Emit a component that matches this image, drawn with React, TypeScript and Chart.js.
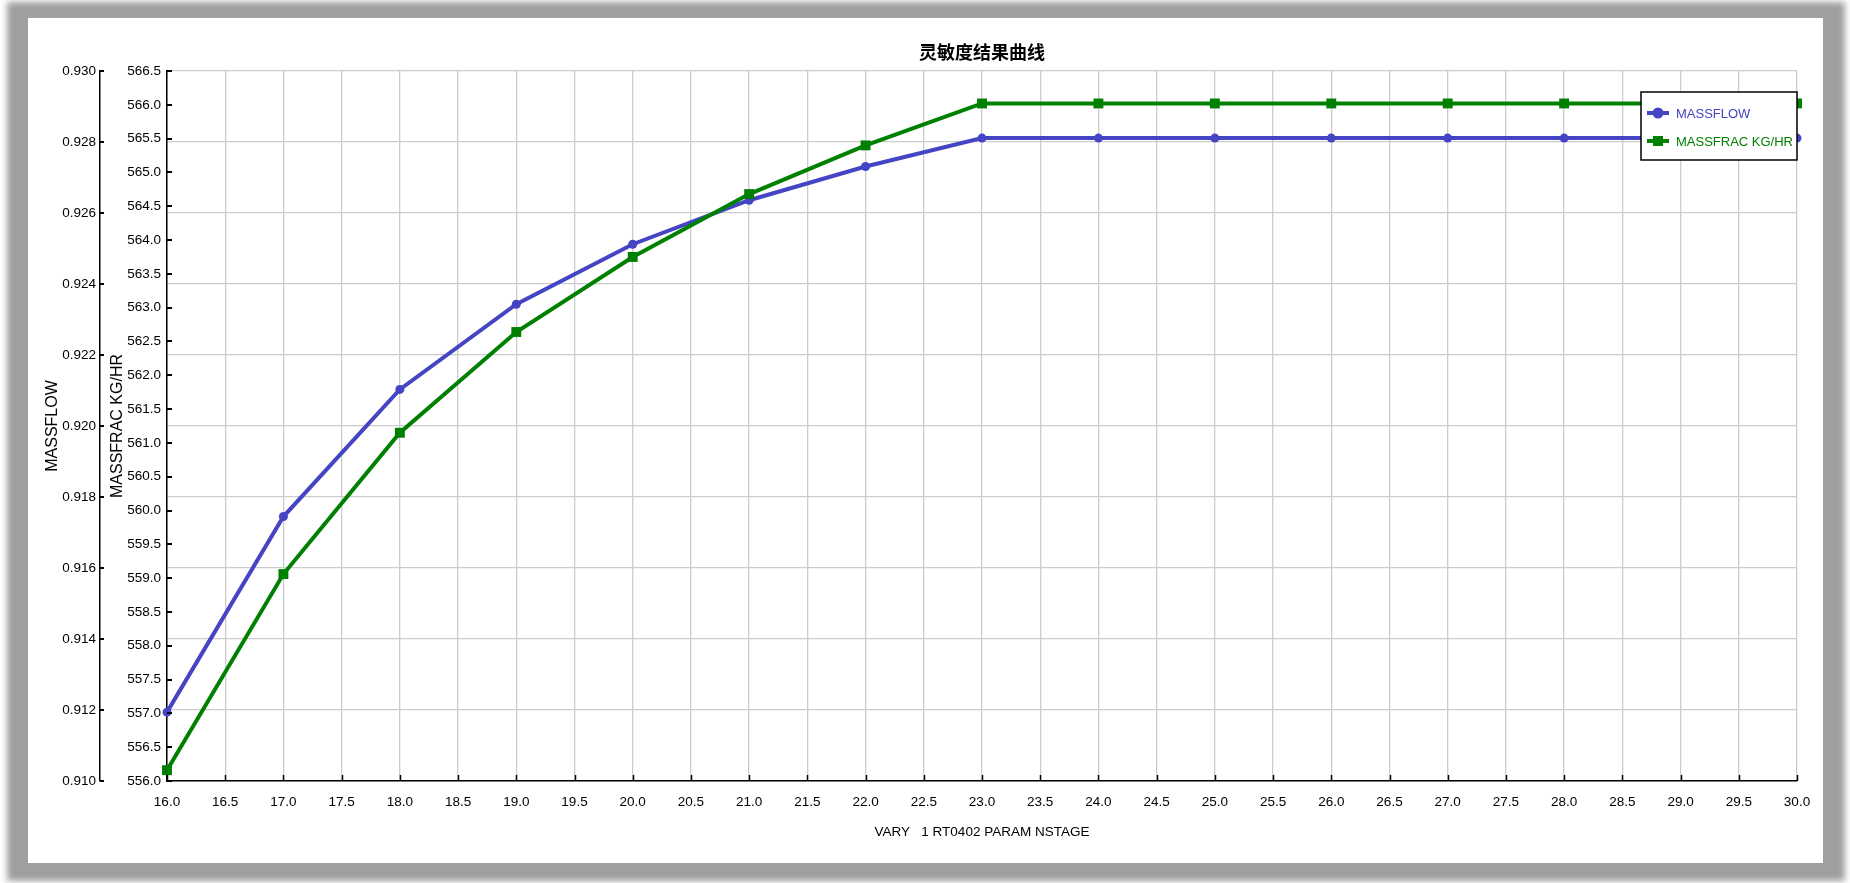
import React, { useEffect, useRef } from "react";
import { Chart, registerables } from "chart.js";

Chart.register(...registerables);

// ---- data ----
const nstage = [16, 17, 18, 19, 20, 21, 22, 23, 24, 25, 26, 27, 28, 29, 30];
const massflow = [0.91194, 0.91745, 0.92103, 0.92343, 0.92512, 0.92636, 0.92731, 0.92811, 0.92811, 0.92811, 0.92811, 0.92811, 0.92811, 0.92811, 0.92811];
const massfrac = [556.16, 559.06, 561.15, 562.64, 563.75, 564.68, 565.40, 566.02, 566.02, 566.02, 566.02, 566.02, 566.02, 566.02, 566.02];

const chartTitle = "灵敏度结果曲线";
const xTitle = "VARY   1 RT0402 PARAM NSTAGE";
const yTitle = "MASSFLOW";
const y1Title = "MASSFRAC KG/HR";
const seriesNames = ["MASSFLOW", "MASSFRAC KG/HR"];

const BLUE = "#4444c4";
const GREEN = "#008000";
const FONT = "'Liberation Sans', Arial, sans-serif";

const titlePlugin = {
  id: "customTitle",
  afterDraw(chart: any) {
    const { ctx, chartArea } = chart;
    ctx.save();
    ctx.font = "bold 18px 'Noto Sans CJK SC', sans-serif";
    ctx.fillStyle = "#000";
    ctx.textAlign = "center";
    ctx.textBaseline = "middle";
    ctx.fillText(chartTitle, (chartArea.left + chartArea.right) / 2, 52);
    ctx.restore();
  },
};

const tickPlugin = {
  id: "inwardTicks",
  afterDraw(chart: any) {
    const { ctx } = chart;
    const x = chart.scales.x;
    const y = chart.scales.y;
    const y1 = chart.scales.y1;
    ctx.save();
    ctx.strokeStyle = "#000";
    ctx.lineWidth = 1.5;
    x.ticks.forEach((t: any) => {
      const px = Math.round(x.getPixelForValue(t.value)) + 0.5;
      ctx.beginPath();
      ctx.moveTo(px, x.top);
      ctx.lineTo(px, x.top - 6);
      ctx.stroke();
    });
    ctx.lineWidth = 2;
    y.ticks.forEach((t: any) => {
      const py = Math.round(y.getPixelForValue(t.value));
      ctx.beginPath();
      ctx.moveTo(y.right, py);
      ctx.lineTo(y.right + 4, py);
      ctx.stroke();
    });
    y1.ticks.forEach((t: any) => {
      const py = Math.round(y1.getPixelForValue(t.value));
      ctx.beginPath();
      ctx.moveTo(y1.right, py);
      ctx.lineTo(y1.right + 5, py);
      ctx.stroke();
    });
    ctx.restore();
  },
};

const legendPlugin = {
  id: "boxLegend",
  afterDatasetsDraw(chart: any) {
    const { ctx, chartArea } = chart;
    const right = chartArea.right;
    const left = right - 156;
    const top = 92;
    const h = 68;
    ctx.save();
    ctx.fillStyle = "#fff";
    ctx.fillRect(left, top, right - left, h);
    ctx.strokeStyle = "#000";
    ctx.lineWidth = 1.5;
    ctx.strokeRect(left, top, right - left, h);
    const items = [
      { name: seriesNames[0], color: BLUE, shape: "circle", y: 113 },
      { name: seriesNames[1], color: GREEN, shape: "rect", y: 141 },
    ];
    items.forEach((it) => {
      ctx.strokeStyle = it.color;
      ctx.fillStyle = it.color;
      ctx.lineWidth = 4;
      ctx.beginPath();
      ctx.moveTo(left + 6, it.y);
      ctx.lineTo(left + 28, it.y);
      ctx.stroke();
      if (it.shape === "circle") {
        ctx.beginPath();
        ctx.arc(left + 17, it.y, 5.5, 0, Math.PI * 2);
        ctx.fill();
      } else {
        ctx.fillRect(left + 12, it.y - 5, 10, 10);
      }
      ctx.font = "13px " + FONT;
      ctx.textAlign = "left";
      ctx.textBaseline = "middle";
      ctx.fillText(it.name, left + 35, it.y + 1);
    });
    ctx.restore();
  },
};

export default function App() {
  const ref = useRef<HTMLCanvasElement>(null);

  useEffect(() => {
    if (!ref.current) return;
    const chart = new Chart(ref.current, {
      type: "line",
      data: {
        datasets: [
          {
            label: seriesNames[0],
            data: nstage.map((n, i) => ({ x: n, y: massflow[i] })),
            yAxisID: "y",
            borderColor: BLUE,
            backgroundColor: BLUE,
            borderWidth: 4,
            pointStyle: "circle",
            pointRadius: 4.5,
            pointBorderWidth: 0,
            tension: 0,
            clip: false as any,
            order: 2,
          },
          {
            label: seriesNames[1],
            data: nstage.map((n, i) => ({ x: n, y: massfrac[i] })),
            yAxisID: "y1",
            borderColor: GREEN,
            backgroundColor: GREEN,
            borderWidth: 4,
            pointStyle: "rect",
            pointRadius: 7,
            pointBorderWidth: 0,
            tension: 0,
            clip: false as any,
            order: 1,
          },
        ],
      },
      options: {
        responsive: false,
        animation: false,
        devicePixelRatio: 1,
        layout: { padding: { left: 40, right: 53, top: 71, bottom: 38 } },
        plugins: {
          legend: { display: false },
          title: { display: false },
          tooltip: { enabled: false },
        },
        scales: {
          x: {
            type: "linear",
            min: 16,
            max: 30,
            afterFit: (s: any) => { s.height = 64; },
            ticks: {
              stepSize: 0.5,
              autoSkip: false,
              maxRotation: 0,
              padding: 13,
              color: "#000",
              font: { family: FONT, size: 13.5 },
              callback: (v: any) => Number(v).toFixed(1),
            },
            grid: { color: "#cccccc", lineWidth: 1.3, drawTicks: false },
            border: { color: "#000", width: 1.5 },
            title: {
              display: true,
              text: xTitle,
              color: "#000",
              font: { family: FONT, size: 13.5 },
              padding: { top: 4, bottom: 5 },
            },
          },
          y: {
            type: "linear",
            position: "left",
            weight: 1,
            min: 0.91,
            max: 0.93,
            afterFit: (s: any) => { s.width = 60; },
            ticks: {
              stepSize: 0.002,
              padding: 4,
              color: "#000",
              font: { family: FONT, size: 13.5 },
              callback: (v: any) => Number(v).toFixed(3),
            },
            grid: { color: "#cccccc", lineWidth: 1.3, drawTicks: false },
            border: { color: "#000", width: 1.5 },
            title: {
              display: true,
              text: yTitle,
              color: "#000",
              font: { family: FONT, size: 16 },
              padding: { top: 3, bottom: 4 },
            },
          },
          y1: {
            type: "linear",
            position: "left",
            weight: 0,
            min: 556,
            max: 566.5,
            afterFit: (s: any) => { s.width = 67; },
            ticks: {
              stepSize: 0.5,
              padding: 6,
              autoSkip: false,
              color: "#000",
              font: { family: FONT, size: 13.5 },
              callback: (v: any) => Number(v).toFixed(1),
            },
            grid: { display: true, drawOnChartArea: false, drawTicks: false },
            border: { color: "#000", width: 1.5 },
            title: {
              display: true,
              text: y1Title,
              color: "#000",
              font: { family: FONT, size: 16 },
              padding: { top: 8, bottom: 4 },
            },
          },
        },
      } as any,
      plugins: [titlePlugin, legendPlugin, tickPlugin],
    });
    return () => chart.destroy();
  }, []);

  return (
    <div style={{ position: "absolute", left: 0, top: 0, width: 1850, height: 883, background: "#fff", overflow: "hidden" }}>
      <div style={{ position: "absolute", left: 7, top: 2, width: 1838, height: 879, background: "#9f9f9f", filter: "blur(3px)" }} />
      <div style={{ position: "absolute", left: 28, top: 18, width: 1795, height: 845, background: "#fff" }} />
      <canvas ref={ref} width={1850} height={883} style={{ position: "absolute", left: 0, top: 0, width: 1850, height: 883 }} />
    </div>
  );
}
